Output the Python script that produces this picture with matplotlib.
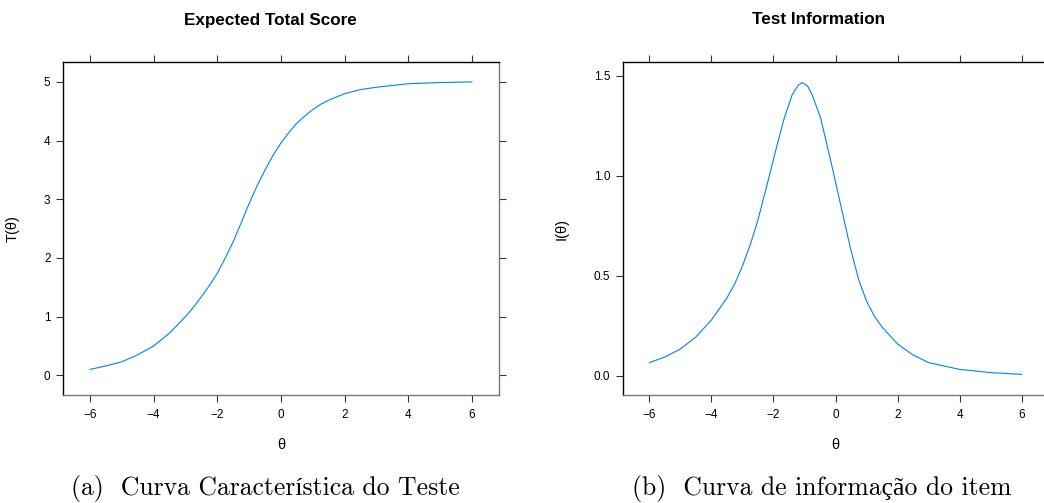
import matplotlib
matplotlib.use('Agg')
import matplotlib.pyplot as plt

plt.rcParams['font.family'] = ['Liberation Sans', 'DejaVu Sans']

# Curva característica do teste
theta_t = [-6, -5.5, -5, -4.5, -4, -3.5, -3, -2.75, -2.5, -2.25, -2, -1.75, -1.5, -1.25,
           -1, -0.75, -0.5, -0.25, 0, 0.25, 0.5, 0.75, 1, 1.25, 1.5, 2, 2.5, 3, 3.5, 4,
           5, 6]
score_t = [0.10, 0.16, 0.23, 0.35, 0.50, 0.72, 1.00, 1.16, 1.34, 1.53, 1.74, 2.00, 2.28,
           2.60, 2.93, 3.23, 3.50, 3.75, 3.96, 4.14, 4.30, 4.42, 4.53, 4.62, 4.69, 4.80,
           4.87, 4.91, 4.94, 4.97, 4.99, 5.00]

# Curva de informação do teste
theta_i = [-6, -5.5, -5, -4.5, -4, -3.5, -3.25, -3, -2.74, -2.5, -2.2, -1.94, -1.67, -1.4,
           -1.2, -1.07, -0.9, -0.75, -0.48, -0.16, 0.16, 0.48, 0.75, 1, 1.25, 1.5, 2, 2.5,
           3, 4, 5, 6]
info_i = [0.067, 0.095, 0.135, 0.195, 0.28, 0.39, 0.46, 0.55, 0.66, 0.78, 0.96, 1.12,
          1.28, 1.405, 1.455, 1.467, 1.45, 1.405, 1.29, 1.08, 0.86, 0.64, 0.48, 0.375,
          0.30, 0.245, 0.16, 0.105, 0.067, 0.033, 0.017, 0.008]

x_ticks = [-6, -4, -2, 0, 2, 4, 6]
x_ticklabels = ['\u22126', '\u22124', '\u22122', '0', '2', '4', '6']

W, H = 1044, 503
fig = plt.figure(figsize=(W / 100, H / 100), dpi=100)

ax1 = fig.add_axes([63 / W, 1 - 395 / H, 436 / W, 333 / H])
ax2 = fig.add_axes([623 / W, 1 - 395 / H, 425 / W, 333 / H])

cor = '#0080ff'
ax1.plot(theta_t, score_t, color=cor, linewidth=0.8)
ax2.plot(theta_i, info_i, color=cor, linewidth=0.8)

ax1.set_xlim(-6.85, 6.85)
ax1.set_ylim(-0.336, 5.34)
ax2.set_xlim(-6.85, 6.85)
ax2.set_ylim(-0.095, 1.57)

for ax in (ax1, ax2):
    ax.set_xticks(x_ticks)
    ax.set_xticklabels(x_ticklabels)
    ax.tick_params(direction='out', length=5, width=0.8, color='#333333',
                   labelsize=8.5, top=True, right=True, labeltop=False, labelright=False)
    ax.tick_params(axis='y', pad=4)
    ax.tick_params(axis='x', pad=5)
    ax.spines['left'].set_color('black')
    ax.spines['top'].set_color('black')
    ax.spines['right'].set_color('#777777')
    ax.spines['bottom'].set_color('#777777')
    for s in ax.spines.values():
        s.set_linewidth(1.0)
    ax.set_xlabel('\u03b8', fontsize=10.5)
    ax.xaxis.set_label_coords(0.5, -(438 - 395) / 333)

ax1.set_yticks([0, 1, 2, 3, 4, 5])
ax1.set_ylabel('T(\u03b8)', fontsize=10.5)
ax1.yaxis.set_label_coords((20 - 63) / 436, 0.5)

ax2.set_yticks([0.0, 0.5, 1.0, 1.5])
ax2.set_yticklabels(['0.0', '0.5', '1.0', '1.5'])
ax2.set_ylabel('I(\u03b8)', fontsize=10.5)
ax2.yaxis.set_label_coords((569 - 623) / 425, 0.5)

fig.text(270 / W, 1 - 20 / H, 'Expected Total Score', ha='center', va='center',
         fontsize=12.3, fontweight='bold')
fig.text(819 / W, 1 - 20 / H, 'Test Information', ha='center', va='center',
         fontsize=12.3, fontweight='bold')

serif = ['cmr10', 'Liberation Serif', 'DejaVu Serif']
fig.text(265 / W, 1 - 489 / H, '(a)  Curva Caracter\u00edstica do Teste', ha='center',
         va='center', fontsize=18.5, family=serif)
fig.text(822 / W, 1 - 489 / H, '(b)  Curva de informa\u00e7\u00e3o do item', ha='center',
         va='center', fontsize=18.5, family=serif)

fig.savefig('out.png', dpi=100)
